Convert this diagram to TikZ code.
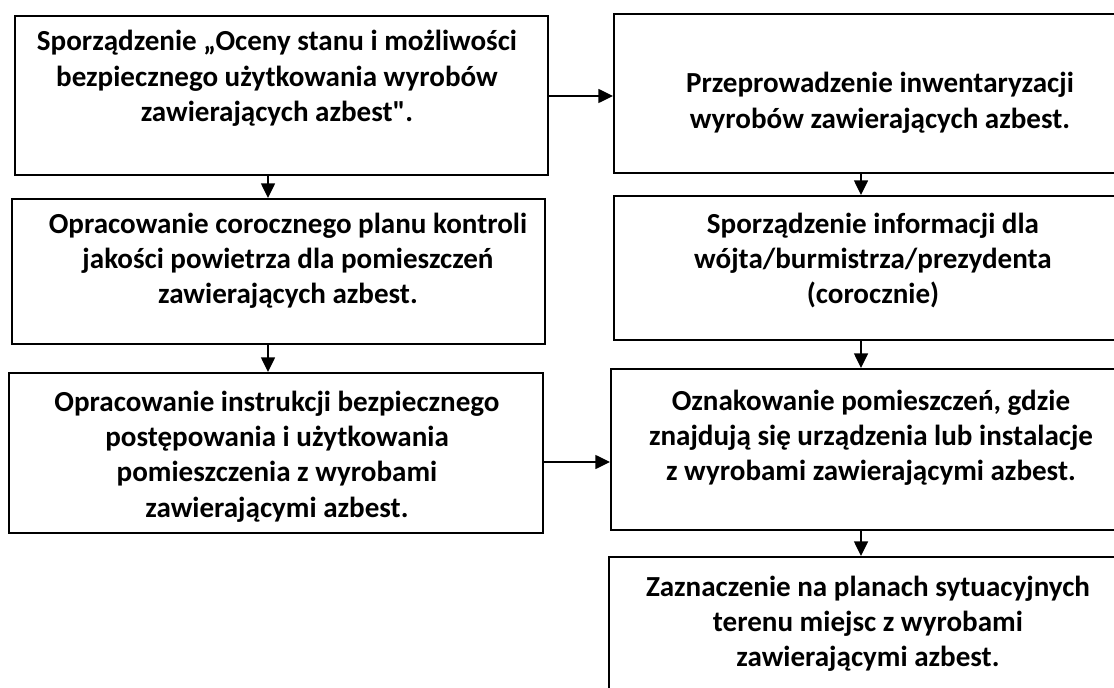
\documentclass[tikz,border=0pt]{standalone}
\usepackage{fontspec}
\setmainfont{Carlito}[Ligatures=TeXOff]
\usetikzlibrary{arrows.meta}
\tikzset{
  box/.style={draw=black, line width=1.5pt, rectangle, inner sep=0pt, fill=none},
  txt/.style={anchor=north, align=center, inner sep=0pt, text=black,
    font=\fontsize{21.8}{26.5}\selectfont\bfseries},
  arr/.style={draw=black, line width=1.1pt, -{Triangle[length=11pt, width=10.5pt]}}
}
\begin{document}
\begin{tikzpicture}[x=0.75pt, y=-0.75pt]
\path[use as bounding box] (0,0) rectangle (1114,688);
\fill[white] (0,0) rectangle (1114,688);
\clip (0,0) rectangle (1114,688);
% boxes (left column)
\node[box, minimum width=533*0.75pt, minimum height=159*0.75pt] (A) at (281.5,95.5) {};
\node[box, minimum width=533*0.75pt, minimum height=145*0.75pt] (B) at (278.5,271.5) {};
\node[box, minimum width=534*0.75pt, minimum height=160*0.75pt] (C) at (276,453) {};
% boxes (right column)
\node[box, minimum width=518*0.75pt, minimum height=159*0.75pt] (D) at (873,93.5) {};
\node[box, minimum width=518*0.75pt, minimum height=144*0.75pt] (E) at (873,268) {};
\node[box, minimum width=521*0.75pt, minimum height=161*0.75pt] (F) at (871.5,449.5) {};
\node[box, minimum width=523*0.75pt, minimum height=174*0.75pt] (G) at (870.5,644) {};
% texts
\node[txt] (At) at (277,26) {\strut Sporządzenie „Oceny stanu i możliwości\\bezpiecznego użytkowania wyrobów\\zawierających azbest".};
\node[txt] (Bt) at (288,208) {\strut Opracowanie corocznego planu kontroli\\jakości powietrza dla pomieszczeń\\zawierających azbest.};
\node[txt] (Ct) at (277,386) {\strut Opracowanie instrukcji bezpiecznego\\postępowania i użytkowania\\pomieszczenia z wyrobami\\zawierającymi azbest.};
\node[txt] (Dt) at (880,68) {\strut Przeprowadzenie inwentaryzacji\\wyrobów zawierających azbest.};
\node[txt] (Et) at (873,208) {\strut Sporządzenie informacji dla\\wójta/burmistrza/prezydenta\\(corocznie)};
\node[txt] (Ft) at (871,385) {\strut Oznakowanie pomieszczeń, gdzie\\znajdują się urządzenia lub instalacje\\z wyrobami zawierającymi azbest.};
\node[txt] (Gt) at (868,571) {\strut Zaznaczenie na planach sytuacyjnych\\terenu miejsc z wyrobami\\zawierającymi azbest.};
% guide coordinates
\coordinate (xl) at (268,0);
\coordinate (xr) at (861,0);
\coordinate (ya) at (0,96);
\coordinate (yc) at (0,462);
% connectors
\draw[arr] (A.south -| xl) -- (B.north -| xl);
\draw[arr] (B.south -| xl) -- (C.north -| xl);
\draw[arr] (D.south -| xr) -- (E.north -| xr);
\draw[arr] (E.south -| xr) -- (F.north -| xr);
\draw[arr] (F.south -| xr) -- (G.north -| xr);
\draw[arr] (A.east |- ya) -- (D.west |- ya);
\draw[arr] (C.east |- yc) -- (F.west |- yc);
\end{tikzpicture}
\end{document}
